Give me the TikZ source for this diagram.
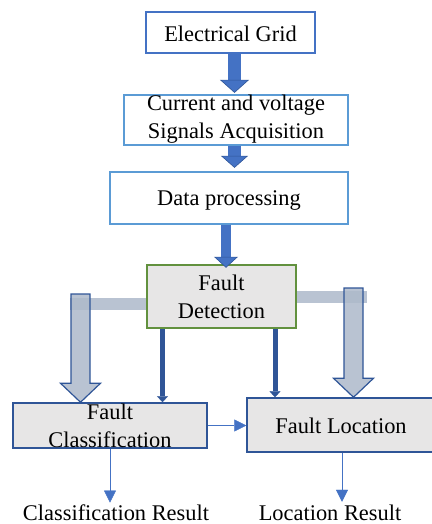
\documentclass[tikz,border=0pt]{standalone}
\usepackage{fontspec}
\setmainfont{Liberation Serif}
\usetikzlibrary{arrows.meta, calc}
\definecolor{gridblue}{RGB}{68,114,196}
\definecolor{lightblue}{RGB}{91,155,213}
\definecolor{darkblue}{RGB}{47,85,151}
\definecolor{boxgreen}{RGB}{98,145,62}
\definecolor{boxgray}{RGB}{231,230,230}
\definecolor{arrowgray}{RGB}{173,185,202}
\tikzstyle{txt} = [font=\fontsize{22.4}{27.5}\selectfont, inner sep=0pt, align=center]
\tikzstyle{topbox} = [txt, rectangle, draw=gridblue, line width=1.5pt]
\tikzstyle{stepbox} = [txt, rectangle, draw=lightblue, line width=1.3pt]
\tikzstyle{detbox} = [txt, rectangle, draw=boxgreen, fill=boxgray, line width=1.5pt]
\tikzstyle{faultbox} = [txt, rectangle, draw=darkblue, fill=boxgray, line width=1.5pt]
\tikzstyle{result} = [txt, anchor=base]
\tikzstyle{fatarrow} = [line width=13pt, draw=gridblue, -{Triangle[width=29pt,length=13pt,line width=0.6pt,color=darkblue,fill=gridblue]}]
\tikzstyle{darkarrow} = [line width=5pt, draw=darkblue, -{Triangle[width=11pt,length=6pt,line width=0.4pt]}]
\tikzstyle{thinarrow} = [line width=1pt, draw=gridblue, -{Triangle[width=12pt,length=12pt,line width=0.4pt]}]
\tikzstyle{graybar} = [line width=12pt, draw=arrowgray, draw opacity=0.85]
\tikzstyle{grayarrow} = [fill=arrowgray, fill opacity=0.85, draw=darkblue, line width=1.2pt]
% block arrow pointing down, from top centre #1 to tip #2
\newcommand{\grayblock}[2]{%
  \draw[grayarrow] let \p1=(#1), \p2=(#2) in
    (\x1-9.5pt,\y1) -- (\x1+9.5pt,\y1) -- (\x1+9.5pt,\y2+19pt) -- (\x1+20pt,\y2+19pt)
    -- (\x1,\y2) -- (\x1-20pt,\y2+19pt) -- (\x1-9.5pt,\y2+19pt) -- cycle;}

\begin{document}
\begin{tikzpicture}[x=1pt,y=-1pt]
		\useasboundingbox (0,0) rectangle (431,524);
		\node (grid) [topbox, minimum width=169pt, minimum height=41pt, text height=24pt, text depth=5pt] at (230.5,32.5) {Electrical Grid};
		\node (acq) [stepbox, minimum width=224pt, minimum height=50pt, text height=43pt, text depth=7pt] at (236,120) {Current and voltage\\Signals Acquisition};
		\node (data) [stepbox, minimum width=238pt, minimum height=52pt, text height=19pt, text depth=5pt] at (229,198) {Data processing};
		\node (detect) [detbox, minimum width=149pt, minimum height=63pt, text height=53pt, text depth=10pt] at (221.5,296.5) {Fault\\Detection};
		\node (cls) [faultbox, minimum width=194pt, minimum height=45pt, text height=44pt, text depth=1pt] at (110,425.5) {Fault\\Classification};
		\node (loc) [faultbox, minimum width=188pt, minimum height=54pt, text height=21pt, text depth=5pt] at (341,425) {Fault Location};
		\node (cres) [result] at (116,520) {Classification Result};
		\node (lres) [result] at (330,520) {Location Result};
		\coordinate (ltop) at (80.5,294);
		\coordinate (rtop) at (353.5,288);

		% main chain
		\draw [fatarrow, shorten >=1.5pt] ([xshift=4pt]grid.south) -- ([xshift=4pt]grid.south |- acq.north);
		\draw [fatarrow, -{Triangle[width=27pt,length=12pt,line width=0.6pt,color=darkblue,fill=gridblue]}, shorten >=3.5pt] ([xshift=-1.5pt]acq.south) -- ([xshift=-1.5pt]acq.south |- data.north);
		\draw [fatarrow, line width=10pt, -{Triangle[width=24pt,length=11pt,line width=0.6pt,color=darkblue,fill=gridblue]}, shorten >=-3.5pt] ([xshift=-3pt]data.south) -- ([xshift=-3pt]data.south |- detect.north);

		% side branches
		\draw [graybar] ($(detect.west)+(0,7)$) -- ($(detect.west)+(-76,7)$);
		\draw [graybar] (detect.east) -- ++(70,0);
		\grayblock{ltop}{ltop |- cls.north}
		\grayblock{rtop}{rtop |- loc.north}
		\draw [darkarrow] ([xshift=-59pt]detect.south) -- ([xshift=-59pt]detect.south |- cls.north);
		\draw [darkarrow] ([xshift=53.5pt]detect.south) -- ([xshift=53.5pt]detect.south |- loc.north);

		% outputs
		\draw [thinarrow] (cls.east) -- (cls.east -| loc.west);
		\draw [thinarrow, shorten >=1.5pt] (cls.south) -- (cls.south |- cres.north);
		\draw [thinarrow, shorten >=2.5pt] ([xshift=1pt]loc.south) -- ([xshift=1pt]loc.south |- lres.north);
\end{tikzpicture}
\end{document}
